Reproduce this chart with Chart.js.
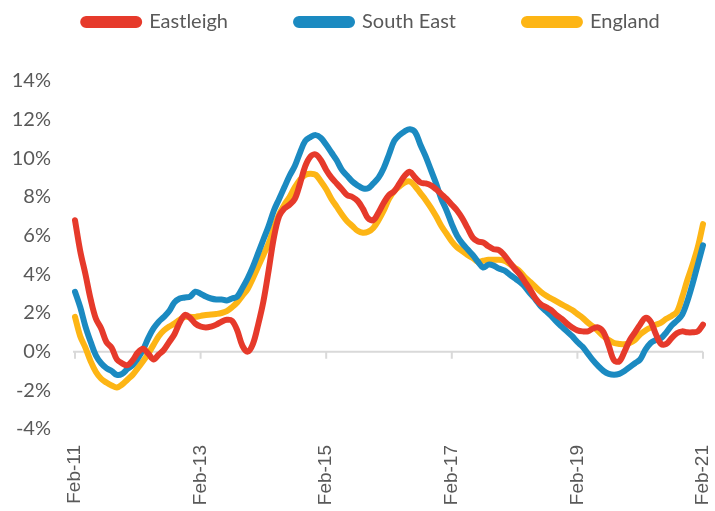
<!DOCTYPE html>
<html>
<head>
<meta charset="utf-8">
<script src="https://cdn.jsdelivr.net/npm/chart.js@4/dist/chart.umd.min.js"></script>
<style>
html,body{margin:0;padding:0;background:#fff;}
#wrap{width:715px;height:511px;}
</style>
</head>
<body>
<div id="wrap"><canvas id="c" width="715" height="511"></canvas></div>
<script>
const months = ["Jan","Feb","Mar","Apr","May","Jun","Jul","Aug","Sep","Oct","Nov","Dec"];
const categories = [];
for (let y = 11; y <= 21; y++) {
  for (let m = 0; m < 12; m++) {
    if (y === 11 && m < 1) continue;
    if (y === 21 && m > 1) continue;
    categories.push(months[m] + "-" + y);
  }
}
const tickLabels = ["Feb-11","Feb-13","Feb-15","Feb-17","Feb-19","Feb-21"];
const yTicks = [-4,-2,0,2,4,6,8,10,12,14];

const eastleigh = [6.8,5.2,4.0,2.7,1.7,1.2,0.5,0.2,-0.4,-0.6,-0.7,-0.45,-0.05,0.15,-0.1,-0.4,-0.15,0.1,0.5,0.9,
1.5,1.9,1.75,1.45,1.3,1.25,1.3,1.4,1.55,1.65,1.6,1.1,0.3,0.0,0.4,1.4,2.6,4.2,5.9,7.0,
7.4,7.6,7.9,8.7,9.6,10.1,10.2,9.9,9.4,9.0,8.7,8.4,8.1,8.0,7.8,7.4,6.9,6.8,7.2,7.7,
8.1,8.3,8.7,9.1,9.3,9.0,8.75,8.7,8.6,8.4,8.15,7.9,7.6,7.3,6.9,6.4,5.9,5.7,5.65,5.45,
5.3,5.25,5.0,4.65,4.3,4.0,3.6,3.2,2.75,2.45,2.3,2.15,1.9,1.7,1.45,1.25,1.1,1.05,1.05,1.2,
1.25,1.0,0.3,-0.45,-0.5,0.0,0.6,1.0,1.4,1.75,1.55,0.9,0.4,0.4,0.7,0.95,1.05,1.0,1.0,1.05,1.4];

const southEast = [3.1,2.3,1.3,0.5,-0.2,-0.6,-0.85,-1.0,-1.2,-1.15,-0.9,-0.7,-0.35,0.1,0.7,1.2,1.55,1.8,2.1,2.55,
2.75,2.8,2.85,3.1,3.0,2.85,2.75,2.7,2.7,2.65,2.75,2.85,3.3,3.8,4.4,5.1,5.8,6.5,7.3,7.9,
8.5,9.1,9.6,10.3,10.9,11.1,11.2,11.05,10.7,10.3,9.9,9.4,9.1,8.8,8.6,8.45,8.45,8.7,9.0,9.5,
10.2,10.9,11.2,11.4,11.5,11.35,10.7,10.1,9.4,8.7,7.9,7.3,6.6,6.0,5.6,5.3,5.0,4.65,4.35,4.5,
4.45,4.3,4.2,4.0,3.8,3.6,3.35,3.0,2.7,2.35,2.1,1.85,1.55,1.3,1.05,0.8,0.5,0.25,-0.1,-0.45,
-0.75,-1.0,-1.15,-1.2,-1.15,-1.0,-0.8,-0.6,-0.4,0.1,0.45,0.6,0.7,1.0,1.35,1.6,1.9,2.6,3.5,4.5,5.5];

const england = [1.8,0.8,0.2,-0.5,-1.05,-1.4,-1.6,-1.75,-1.85,-1.7,-1.45,-1.2,-0.85,-0.5,-0.1,0.35,0.8,1.1,1.3,1.45,
1.65,1.8,1.8,1.8,1.85,1.9,1.92,1.95,2.0,2.1,2.3,2.55,2.9,3.25,3.8,4.4,5.0,5.6,6.4,7.1,
7.6,8.0,8.5,8.9,9.15,9.2,9.15,8.8,8.4,7.9,7.5,7.1,6.75,6.5,6.25,6.15,6.2,6.4,6.8,7.3,
7.9,8.3,8.55,8.75,8.8,8.55,8.2,7.85,7.45,7.0,6.5,6.1,5.7,5.4,5.2,5.0,4.85,4.65,4.7,4.75,
4.75,4.75,4.7,4.55,4.35,4.15,3.85,3.6,3.35,3.1,2.9,2.75,2.6,2.45,2.3,2.15,1.95,1.75,1.5,1.3,
1.05,0.8,0.6,0.45,0.4,0.38,0.45,0.6,0.9,1.1,1.25,1.4,1.5,1.7,1.85,2.05,2.8,3.7,4.5,5.4,6.6];

const RED = "#E63A2B", BLUE = "#1B8AC1", YELLOW = "#FDB515";
const LEGEND_PAD = 68;

const zeroAxis = {
  id: "zeroAxis",
  beforeDatasetsDraw(chart) {
    const {ctx, chartArea, scales} = chart;
    const y0 = scales.y.getPixelForValue(0);
    ctx.save();
    ctx.strokeStyle = "#d9d9d9";
    ctx.lineWidth = 2;
    ctx.beginPath();
    ctx.moveTo(chartArea.left - 2, y0);
    ctx.lineTo(chartArea.right, y0);
    categories.forEach((c, i) => {
      if (tickLabels.includes(c)) {
        const x = scales.x.getPixelForValue(i);
        ctx.moveTo(x, y0);
        ctx.lineTo(x, y0 + 7);
      }
    });
    ctx.stroke();
    ctx.restore();
  }
};

const legendTweak = {
  id: "legendTweak",
  afterInit(chart) {
    const lg = chart.legend;
    if (!lg) return;
    const origFit = lg.fit.bind(lg);
    lg.fit = function () {
      const mw = this.maxWidth;
      this.maxWidth = 3000;
      origFit();
      this.maxWidth = mw;
      this.width = mw;
      this.height = 81;
    };
    const origDraw = lg.draw.bind(lg);
    lg.draw = function (area) {
      const saved = {top: this.top, left: this.left, right: this.right};
      this.top = 21 - LEGEND_PAD - 9;
      this.left = 0;
      this.right = 743;
      origDraw(area);
      Object.assign(this, saved);
    };
  }
};

const ds = (label, data, color) => ({
  label, data, borderColor: color, backgroundColor: color,
  borderWidth: 6, pointRadius: 0, tension: 0.35, fill: false,
  borderCapStyle: "round", borderJoinStyle: "round"
});

new Chart(document.getElementById("c"), {
  type: "line",
  data: {
    labels: categories,
    datasets: [ds("Eastleigh", eastleigh, RED), ds("South East", southEast, BLUE), ds("England", england, YELLOW)]
  },
  options: {
    responsive: false,
    animation: false,
    layout: {padding: {top: 0, right: 12, left: 0, bottom: 0}},
    plugins: {
      tooltip: {enabled: false},
      legend: {
        position: "top",
        labels: {
          boxWidth: 56, boxHeight: 6, useBorderRadius: true, borderRadius: 3,
          color: "#595959", padding: LEGEND_PAD,
          font: {family: "Lato, 'Open Sans', sans-serif", size: 20}
        }
      }
    },
    scales: {
      x: {
        grid: {display: false, drawTicks: false},
        border: {display: false},
        afterFit(s) { s.height = 82; s.paddingLeft = 0; s.paddingRight = 0; },
        ticks: {
          autoSkip: false, maxRotation: 90, minRotation: 90, padding: 16,
          color: "#595959",
          font: {family: "'Liberation Sans', sans-serif", size: 19},
          callback(v, i) { return tickLabels.includes(categories[i]) ? categories[i] : ""; }
        }
      },
      y: {
        min: -4, max: 14,
        afterFit(s) { s.width = 75; },
        afterBuildTicks(s) { s.ticks = yTicks.map(v => ({value: v})); },
        grid: {display: false, drawTicks: false},
        border: {display: false},
        ticks: {
          padding: 24, color: "#595959",
          font: {family: "Lato, 'Open Sans', sans-serif", size: 20},
          callback(v) { return v + "%"; }
        }
      }
    }
  },
  plugins: [zeroAxis, legendTweak]
});
</script>
</body>
</html>
